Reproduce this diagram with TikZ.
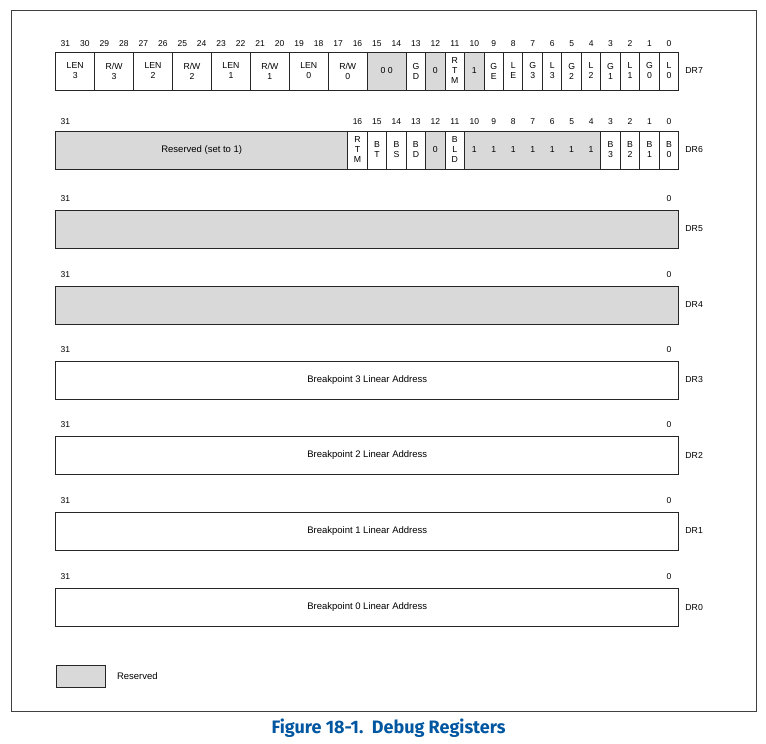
\documentclass[tikz,border=0pt]{standalone}
\usepackage{fontspec}
\setmainfont{Liberation Sans}
\newfontfamily\capfont{Fira Sans}
\usetikzlibrary{positioning}

\definecolor{rsvdgray}{RGB}{217,217,217}
\definecolor{capblue}{RGB}{0,86,160}
\definecolor{framegray}{RGB}{64,64,64}

\newcommand{\bitw}{19.47}
\newcommand{\regx}{55.7}

\tikzset{
	bitcell/.style = {draw = black!85, line width = 1pt, inner sep = 0pt, minimum height = 38pt, align = center, font = \fontsize{8.7}{10}\selectfont},
	rsvd/.style = {bitcell, fill = rsvdgray},
	used/.style = {bitcell, fill = white},
	bigrsvd/.style = {rsvd, font = \fontsize{9.5}{11}\selectfont},
	bigused/.style = {used, font = \fontsize{9.5}{11}\selectfont},
	bitno/.style = {inner sep = 0pt, font = \fontsize{8.5}{10}\selectfont},
	longtext/.style = {font = \fontsize{9.5}{11}\selectfont},
	regname/.style = {anchor = west, inner sep = 0pt, font = \fontsize{8.7}{10}\selectfont}
}

\begin{document}
\begin{tikzpicture}[x = 1pt, y = -1pt]

	\useasboundingbox (0, 0) rectangle (766, 744);

	% Outer frame

	\draw [framegray, line width = 1pt] (11, 10) rectangle (756, 711);

	% DR7

	\foreach \h/\l/\t/\s [evaluate = \h as \cx using \regx + (31.5 - (\h + \l)/2) * \bitw, evaluate = \h as \fw using (\h - \l + 1) * \bitw]
		in {31/30/{LEN\\3}/used, 29/28/{R/W\\3}/used, 27/26/{LEN\\2}/used, 25/24/{R/W\\2}/used,
			23/22/{LEN\\1}/used, 21/20/{R/W\\1}/used, 19/18/{LEN\\0}/used, 17/16/{R/W\\0}/used,
			15/14/{0 0}/rsvd, 13/13/{G\\D}/used, 12/12/0/rsvd, 11/11/{R\\T\\M}/used, 10/10/1/rsvd,
			9/9/{G\\E}/used, 8/8/{L\\E}/used, 7/7/{G\\3}/used, 6/6/{L\\3}/used, 5/5/{G\\2}/used,
			4/4/{L\\2}/used, 3/3/{G\\1}/used, 2/2/{L\\1}/used, 1/1/{G\\0}/used, 0/0/{L\\0}/used}
		\node [\s, minimum width = \fw pt] (dr7-b\l) at (\cx, 71) {\t};

	\foreach \b in {0, ..., 31}
		\node [bitno] (dr7-n\b) at ({\regx + (31.5 - \b) * \bitw}, 44) {\b};

	\node [regname, right = 6pt of dr7-b0] (dr7) {DR7};

	% DR6

	\foreach \h/\l/\t/\s [evaluate = \h as \cx using \regx + (31.5 - (\h + \l)/2) * \bitw, evaluate = \h as \fw using (\h - \l + 1) * \bitw]
		in {31/17/{Reserved (set to 1)}/bigrsvd, 16/16/{R\\T\\M}/used, 15/15/{B\\T}/used, 14/14/{B\\S}/used,
			13/13/{B\\D}/used, 12/12/0/rsvd, 11/11/{B\\L\\D}/used, 10/4/{}/rsvd,
			3/3/{B\\3}/used, 2/2/{B\\2}/used, 1/1/{B\\1}/used, 0/0/{B\\0}/used}
		\node [\s, minimum width = \fw pt] (dr6-b\l) at (\cx, 150) {\t};

	\foreach \b in {4, ..., 10}
		\node [bitno, font = \fontsize{8.7}{10}\selectfont] (dr6-one\b) at ({\regx + (31.5 - \b) * \bitw}, 150) {1};

	\foreach \b in {0, ..., 16, 31}
		\node [bitno] (dr6-n\b) at ({\regx + (31.5 - \b) * \bitw}, 122) {\b};

	\node [regname, right = 6pt of dr6-b0] (dr6) {DR6};

	% DR5 to DR0

	\foreach \r/\y/\t/\s in {5/229/{}/bigrsvd, 4/305/{}/bigrsvd,
			3/380/{Breakpoint 3 Linear Address}/bigused, 2/455/{Breakpoint 2 Linear Address}/bigused,
			1/531/{Breakpoint 1 Linear Address}/bigused, 0/607/{Breakpoint 0 Linear Address}/bigused} {
		\node [\s, minimum width = 32 * \bitw pt] (dr\r-b0) at ({\regx + 16 * \bitw}, \y) {\t};
		\node [bitno] (dr\r-n31) at ({\regx + 0.5 * \bitw}, {\y - 30.5}) {31};
		\node [bitno] (dr\r-n0) at ({\regx + 31.5 * \bitw}, {\y - 30.5}) {0};
		\node [regname, right = 6pt of dr\r-b0] (dr\r) {DR\r};
	}

	% Key

	\node [rsvd, minimum width = 49pt, minimum height = 22pt] (key) at (80.5, 676) {};
	\node [longtext, right = 8pt of key] (key-text) {Reserved};

	% Caption

	\node [anchor = base, text = capblue, font = \capfont\bfseries\fontsize{18}{21}\selectfont] (caption) at (388.5, 733)
		{Figure 18-1.\ \ Debug Registers};

\end{tikzpicture}
\end{document}
